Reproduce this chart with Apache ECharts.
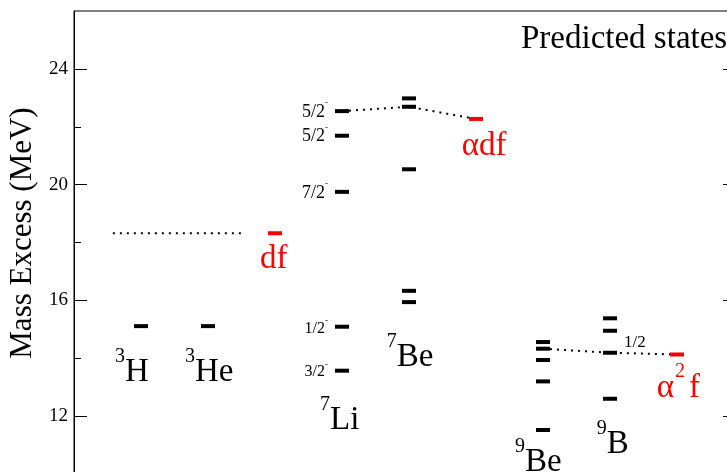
<!DOCTYPE html>
<html><head><meta charset="utf-8">
<script src="https://cdn.jsdelivr.net/npm/echarts@6/dist/echarts.min.js"></script>
<style>html,body{margin:0;padding:0;background:#fff}#c{width:727px;height:472px}</style>
</head><body><div id="c"></div>
<script>
// ---------------- data ----------------
const yTickValues = [12, 16, 20, 24];
const yMinorTickValues = [14, 18, 22];
// columns (x positions 1..9)
const columnNames = ['3H', '3He', 'df', '7Li', '7Be', 'αdf', '9Be', '9B', 'α2f'];
// known levels (MeV)
const levels3H  = [15.11];
const levels3He = [15.11];
const levels7Li = [22.54, 21.69, 19.75, 15.09, 13.57];
const spins7Li  = ['5/2', '5/2', '7/2', '1/2', '3/2'];
const levels7Be = [22.98, 22.69, 20.53, 16.33, 15.94];
const levels9Be = [14.56, 14.33, 13.94, 13.20, 11.52];
const levels9B  = [15.38, 14.95, 14.19, 12.60];
const spins9B   = ['', '', '1/2', ''];
// predicted states (MeV)
const predictedDf  = [18.32];
const predictedAdf = [22.27];
const predictedA2f = [14.13];
// dotted connections (MeV)
const thresholdA3 = [18.32];               // A=3 threshold line
const chain7 = [22.54, 22.69, 22.27];      // 7Li -> 7Be -> αdf
const chain9 = [14.33, 14.19, 14.13];      // 9Be -> 9B -> α2f

// ---------------- helpers ----------------
const FONT = '"Liberation Serif","Times New Roman",serif';
const RED = '#ff0000';
const col = name => columnNames.indexOf(name) + 1;
const mctx = document.createElement('canvas').getContext('2d');
function tw(t, size) { mctx.font = size + 'px ' + FONT; return mctx.measureText(t).width; }
function runsGroup(runs, x, baseY, align, color) {
  const total = runs.reduce((s, r) => s + tw(r[0], r[1]) + (r[3] || 0), 0);
  let cx = align === 'right' ? x - total : x;
  const children = runs.map(r => {
    const el = { type: 'text', style: { text: r[0], x: cx, y: baseY - r[2] - 0.3375 * r[1],
      font: r[1] + 'px ' + FONT, fill: color, align: 'left', verticalAlign: 'middle' } };
    cx += tw(r[0], r[1]) + (r[3] || 0);
    return el;
  });
  return { type: 'group', children };
}

// level items
const blackItems = [];
function addLevels(name, levels, spins) {
  levels.forEach((e, i) => blackItems.push({ c: col(name), e, spin: spins ? spins[i] : '', side: name === '9B' ? 'right' : 'left' }));
}
addLevels('3H', levels3H); addLevels('3He', levels3He);
addLevels('7Li', levels7Li, spins7Li); addLevels('7Be', levels7Be);
addLevels('9Be', levels9Be); addLevels('9B', levels9B, spins9B);
const redItems = [
  { c: col('df'), e: predictedDf[0] },
  { c: col('αdf'), e: predictedAdf[0] },
  { c: col('α2f'), e: predictedA2f[0] }
];

// text annotations (layout: x in column units, y = baseline in MeV)
const annotations = [
  { x: 0.612, y: 13.13, runs: [['3', 20, 20], ['H', 33, 0]], color: '#000' },
  { x: 1.657, y: 13.13, runs: [['3', 20, 20], ['He', 33, 0]], color: '#000' },
  { x: 3.672, y: 11.46, runs: [['7', 20, 20], ['Li', 33, 0]], color: '#000' },
  { x: 4.667, y: 13.65, runs: [['7', 20, 20], ['Be', 33, 0]], color: '#000' },
  { x: 6.582, y: 10.03, runs: [['9', 20, 20], ['Be', 33, 0]], color: '#000' },
  { x: 7.801, y: 10.65, runs: [['9', 20, 20], ['B', 33, 0]], color: '#000' },
  { x: 2.776, y: 17.03, runs: [['df', 33, 0]], color: RED },
  { x: 5.787, y: 20.95, runs: [['αdf', 33, 0]], color: RED },
  { x: 8.697, y: 12.58, runs: [['α', 33, 0, 1], ['2', 20, 21, 4], ['f', 33, 0]], color: RED }
];

function barRender(items, color) {
  return function (params, api) {
    const it = items[params.dataIndex];
    const p = api.coord([api.value(0), api.value(1)]);
    const children = [{ type: 'rect', shape: { x: p[0] - 7, y: p[1] - 2, width: 14, height: 4 }, style: { fill: color } }];
    if (it.spin) {
      if (it.side === 'left') {
        const small = (it.spin === '1/2' || it.spin === '3/2');
        children.push(runsGroup([[it.spin, small ? 16 : 18, 0], ['-', 9, small ? 10 : 12]], p[0] - 7 - 7, p[1] + 7, 'right', '#000'));
      } else {
        children.push(runsGroup([[it.spin, 17, 0]], p[0] + 7 + 7, p[1] - 4.5, 'left', '#000'));
      }
    }
    return { type: 'group', children };
  };
}

const dotted = { color: '#000', width: 2, type: [2, 5] };
function lineSeries(data) {
  return { type: 'line', data, symbol: 'none', showSymbol: false, silent: true, z: 1,
    lineStyle: dotted, animation: false };
}

function yAx(pos, values, len, withLabel) {
  return {
    type: 'value', min: 10, max: 26, position: pos,
    axisLine: { show: withLabel, lineStyle: { color: '#000', width: 1 } },
    axisTick: { show: true, inside: true, length: len, customValues: values, lineStyle: { color: '#000', width: 1 } },
    axisLabel: withLabel ? { show: true, customValues: values, margin: 6, fontSize: 19, fontFamily: FONT, color: '#000' } : { show: false },
    splitLine: { show: false }
  };
}

const chart = echarts.init(document.getElementById('c'), null, { renderer: 'canvas' });
const yLeft = yAx('left', yTickValues, 13, true);
yLeft.name = 'Mass Excess (MeV)';
yLeft.nameLocation = 'middle';
yLeft.nameGap = 33;
yLeft.nameTextStyle = { fontSize: 31, fontFamily: FONT, color: '#000', padding: [0, 0, 0, 19] };
chart.setOption({
  animation: false,
  backgroundColor: '#fff',
  title: { text: 'Predicted states', left: 521, top: 23, padding: 0,
    textStyle: { fontSize: 33, fontWeight: 'normal', fontFamily: FONT, color: '#000' } },
  grid: { left: 74, right: -9, top: 11, bottom: -2, show: true, borderColor: '#000', borderWidth: 1,
    backgroundColor: 'transparent', outerBoundsMode: 'none', containLabel: false },
  xAxis: { type: 'value', min: 0, max: 9.88, show: false },
  yAxis: [
    yLeft,
    yAx('left', yMinorTickValues, 7, false),
    Object.assign(yAx('right', yTickValues, 13, false), { axisLine: { show: false } }),
    yAx('right', yMinorTickValues, 7, false)
  ],
  series: [
    lineSeries([[0.58, thresholdA3[0]], [2.51, thresholdA3[0]]]),
    lineSeries([[col('7Li'), chain7[0]], [col('7Be'), chain7[1]], [col('αdf'), chain7[2]]]),
    lineSeries([[col('9Be'), chain9[0]], [col('9B'), chain9[1]], [col('α2f'), chain9[2]]]),
    { type: 'custom', z: 3, clip: false, silent: true, renderItem: barRender(blackItems, '#000'),
      data: blackItems.map(d => [d.c, d.e]) },
    { type: 'custom', z: 3, clip: false, silent: true, renderItem: barRender(redItems, RED),
      data: redItems.map(d => [d.c, d.e]) },
    { type: 'custom', z: 4, clip: false, silent: true,
      renderItem: function (params, api) {
        const a = annotations[params.dataIndex];
        const p = api.coord([api.value(0), api.value(1)]);
        return runsGroup(a.runs, p[0], p[1], 'left', a.color);
      },
      data: annotations.map(a => [a.x, a.y]) }
  ]
});
</script></body></html>
